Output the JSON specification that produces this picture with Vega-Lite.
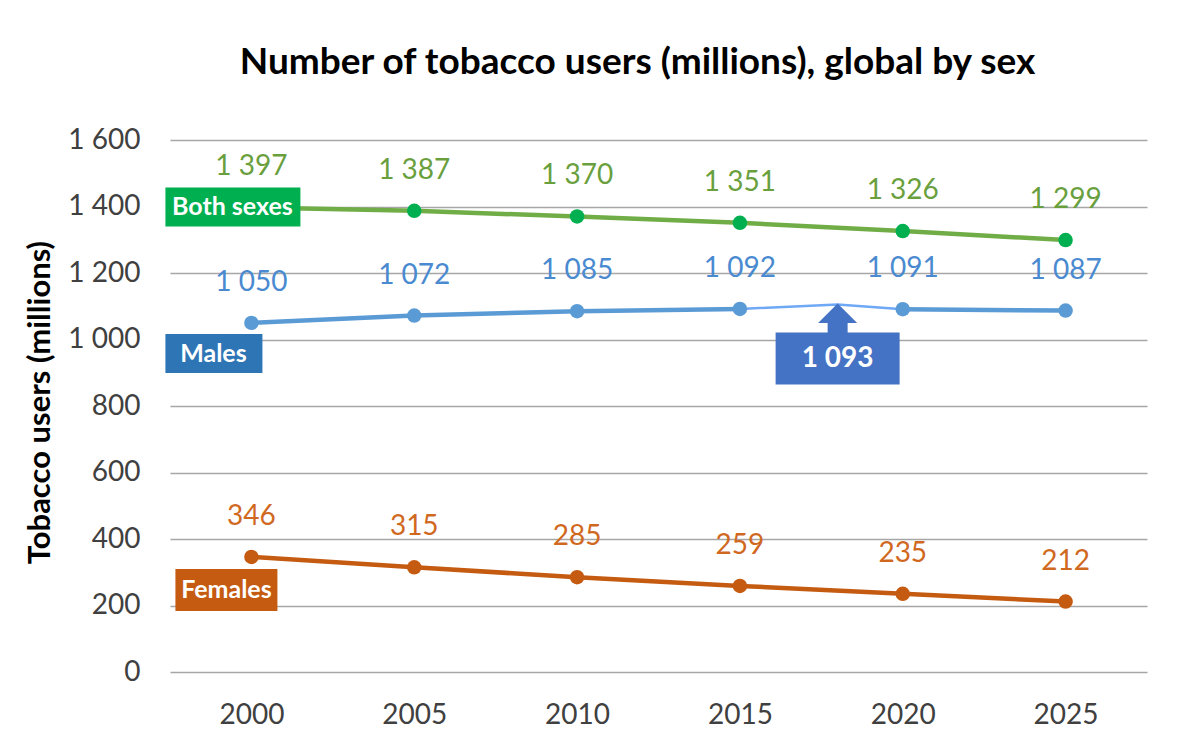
{
  "$schema": "https://vega.github.io/schema/vega-lite/v6.json",
  "width": 977,
  "height": 532,
  "autosize": "none",
  "padding": {"left": 170, "top": 140, "right": 33, "bottom": 81},
  "background": "white",
  "config": {
    "view": {"stroke": null},
    "font": "Lato",
    "locale": {"number": {"decimal": ".", "thousands": " ", "grouping": [3], "currency": ["", ""]}}
  },
  "title": {
    "text": "Number of tobacco users (millions), global by sex",
    "fontSize": 37,
    "fontWeight": "bold",
    "color": "#000000",
    "anchor": "middle",
    "frame": "group",
    "offset": 44,
    "dx": -21
  },
  "datasets": {
    "users": [
      {"series": "Both sexes", "year": 2000, "value": 1397},
      {"series": "Both sexes", "year": 2005, "value": 1387},
      {"series": "Both sexes", "year": 2010, "value": 1370},
      {"series": "Both sexes", "year": 2015, "value": 1351},
      {"series": "Both sexes", "year": 2020, "value": 1326},
      {"series": "Both sexes", "year": 2025, "value": 1299},
      {"series": "Males", "year": 2000, "value": 1050},
      {"series": "Males", "year": 2005, "value": 1072},
      {"series": "Males", "year": 2010, "value": 1085},
      {"series": "Males", "year": 2015, "value": 1092},
      {"series": "Males", "year": 2020, "value": 1091},
      {"series": "Males", "year": 2025, "value": 1087},
      {"series": "Females", "year": 2000, "value": 346},
      {"series": "Females", "year": 2005, "value": 315},
      {"series": "Females", "year": 2010, "value": 285},
      {"series": "Females", "year": 2015, "value": 259},
      {"series": "Females", "year": 2020, "value": 235},
      {"series": "Females", "year": 2025, "value": 212}
    ],
    "malesPeak": [
      {"year": 2015, "value": 1092, "label": ""},
      {"year": 2018, "value": 1105, "label": "1 093"},
      {"year": 2020, "value": 1091, "label": ""}
    ]
  },
  "encoding": {
    "x": {
      "field": "year",
      "type": "quantitative",
      "scale": {"domain": [1997.5, 2027.5], "nice": false, "zero": false},
      "axis": {
        "values": [2000, 2005, 2010, 2015, 2020, 2025],
        "format": "d",
        "title": null,
        "grid": false,
        "domain": false,
        "ticks": false,
        "labelFontSize": 28,
        "labelColor": "#404040",
        "labelPadding": 29
      }
    },
    "y": {
      "field": "value",
      "type": "quantitative",
      "scale": {"domain": [0, 1600], "nice": false},
      "axis": {
        "values": [0, 200, 400, 600, 800, 1000, 1200, 1400, 1600],
        "format": ",d",
        "title": "Tobacco users (millions)",
        "titleFontSize": 31,
        "titleFontWeight": "bold",
        "titleColor": "#000000",
        "titleX": -130,
        "titleY": 262,
        "titleAngle": 270,
        "titleAlign": "center",
        "titleBaseline": "middle",
        "grid": true,
        "gridColor": "#A6A6A6",
        "gridWidth": 1.5,
        "domain": false,
        "ticks": false,
        "labelFontSize": 28,
        "labelColor": "#404040",
        "labelPadding": 30
      }
    }
  },
  "layer": [
    {
      "data": {"name": "users"},
      "transform": [{"filter": "datum.series === 'Both sexes'"}],
      "mark": {"type": "line", "color": "#70AD47", "strokeWidth": 4.5}
    },
    {
      "data": {"name": "users"},
      "transform": [{"filter": "datum.series === 'Females'"}],
      "mark": {"type": "line", "color": "#C55A11", "strokeWidth": 4.5}
    },
    {
      "data": {"name": "users"},
      "transform": [{"filter": "datum.series === 'Males' && datum.year <= 2015"}],
      "mark": {"type": "line", "color": "#5B9BD5", "strokeWidth": 4.5}
    },
    {
      "data": {"name": "users"},
      "transform": [{"filter": "datum.series === 'Males' && datum.year >= 2020"}],
      "mark": {"type": "line", "color": "#5B9BD5", "strokeWidth": 4.5}
    },
    {
      "data": {"name": "malesPeak"},
      "mark": {"type": "line", "color": "#6FA8F5", "strokeWidth": 2.5}
    },
    {
      "data": {"name": "users"},
      "mark": {"type": "point", "filled": true, "size": 210, "opacity": 1},
      "encoding": {
        "color": {
          "field": "series",
          "type": "nominal",
          "scale": {"domain": ["Both sexes", "Males", "Females"], "range": ["#00B050", "#5B9BD5", "#C55A11"]},
          "legend": null
        }
      }
    },
    {
      "data": {"name": "users"},
      "mark": {"type": "text", "dy": -40, "fontSize": 28, "align": "center", "baseline": "middle"},
      "encoding": {
        "text": {"field": "value", "type": "quantitative", "format": ",d"},
        "fill": {
          "field": "series",
          "type": "nominal",
          "scale": {"domain": ["Both sexes", "Males", "Females"], "range": ["#6A9F3E", "#4A8AD0", "#D0691F"]},
          "legend": null
        }
      }
    },
    {
      "data": {"name": "users"},
      "transform": [{"filter": "datum.series === 'Both sexes' && datum.year === 2000"}],
      "mark": {"type": "rect", "color": "#00B050", "xOffset": -86, "x2Offset": 49, "yOffset": -20, "y2Offset": 19},
      "encoding": {"x2": {"field": "year"}, "y2": {"field": "value"}}
    },
    {
      "data": {"name": "users"},
      "transform": [{"filter": "datum.series === 'Both sexes' && datum.year === 2000"}],
      "mark": {"type": "text", "color": "#FFFFFF", "fontWeight": "bold", "fontSize": 25, "dx": -19, "dy": 0, "align": "center", "baseline": "middle"},
      "encoding": {"text": {"field": "series"}}
    },
    {
      "data": {"name": "users"},
      "transform": [{"filter": "datum.series === 'Males' && datum.year === 2000"}],
      "mark": {"type": "rect", "color": "#2E75B6", "xOffset": -86, "x2Offset": 11, "yOffset": 11, "y2Offset": 50},
      "encoding": {"x2": {"field": "year"}, "y2": {"field": "value"}}
    },
    {
      "data": {"name": "users"},
      "transform": [{"filter": "datum.series === 'Males' && datum.year === 2000"}],
      "mark": {"type": "text", "color": "#FFFFFF", "fontWeight": "bold", "fontSize": 25, "dx": -38, "dy": 31, "align": "center", "baseline": "middle"},
      "encoding": {"text": {"field": "series"}}
    },
    {
      "data": {"name": "users"},
      "transform": [{"filter": "datum.series === 'Females' && datum.year === 2000"}],
      "mark": {"type": "rect", "color": "#C55A11", "xOffset": -76, "x2Offset": 26, "yOffset": 12, "y2Offset": 54},
      "encoding": {"x2": {"field": "year"}, "y2": {"field": "value"}}
    },
    {
      "data": {"name": "users"},
      "transform": [{"filter": "datum.series === 'Females' && datum.year === 2000"}],
      "mark": {"type": "text", "color": "#FFFFFF", "fontWeight": "bold", "fontSize": 25, "dx": -25, "dy": 33, "align": "center", "baseline": "middle"},
      "encoding": {"text": {"field": "series"}}
    },
    {
      "data": {"name": "malesPeak"},
      "transform": [{"filter": "datum.year === 2018"}],
      "mark": {"type": "rect", "color": "#4472C4", "xOffset": -62, "x2Offset": 62, "yOffset": 28, "y2Offset": 80},
      "encoding": {"x2": {"field": "year"}, "y2": {"field": "value"}}
    },
    {
      "data": {"name": "malesPeak"},
      "transform": [{"filter": "datum.year === 2018"}],
      "mark": {"type": "rect", "color": "#4472C4", "xOffset": -10, "x2Offset": 10, "yOffset": 17, "y2Offset": 29},
      "encoding": {"x2": {"field": "year"}, "y2": {"field": "value"}}
    },
    {
      "data": {"name": "malesPeak"},
      "transform": [{"filter": "datum.year === 2018"}],
      "mark": {"type": "point", "shape": "M0,0L1,1L-1,1Z", "filled": true, "size": 1521, "opacity": 1, "color": "#4472C4", "yOffset": -1}
    },
    {
      "data": {"name": "malesPeak"},
      "transform": [{"filter": "datum.year === 2018"}],
      "mark": {"type": "text", "color": "#FFFFFF", "fontWeight": "bold", "fontSize": 28, "dy": 54, "align": "center", "baseline": "middle"},
      "encoding": {"text": {"field": "label"}}
    }
  ]
}
